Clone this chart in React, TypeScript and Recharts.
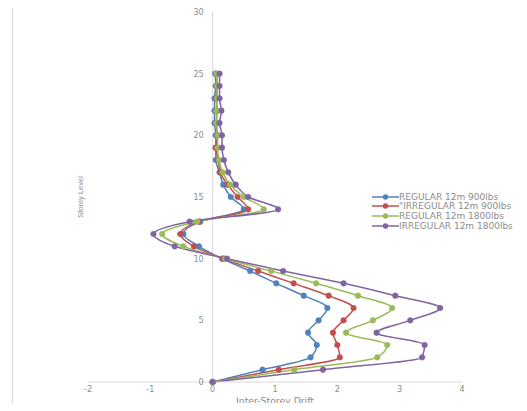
import React from 'react';
import {
  LineChart,
  Line,
  XAxis,
  YAxis,
  ReferenceLine,
  ReferenceDot,
} from 'recharts';

const levels = [0, 1, 2, 3, 4, 5, 6, 7, 8, 9, 10, 11, 12, 13, 14, 15, 16, 17, 18, 19, 20, 21, 22, 23, 24, 25];

const regular900 = [0, 0.8, 1.57, 1.67, 1.53, 1.7, 1.84, 1.46, 1.02, 0.6, 0.15, -0.22, -0.47, -0.2, 0.5, 0.29, 0.17, 0.11, 0.05, 0.05, 0.05, 0.03, 0.03, 0.03, 0.05, 0.04];
const irregular900 = [0, 1.06, 2.04, 2.0, 1.93, 2.1, 2.26, 1.86, 1.3, 0.73, 0.17, -0.3, -0.52, -0.22, 0.57, 0.4, 0.24, 0.12, 0.09, 0.05, 0.08, 0.06, 0.07, 0.06, 0.07, 0.06];
const regular1800 = [0, 1.31, 2.64, 2.8, 2.14, 2.57, 2.88, 2.33, 1.66, 0.94, 0.2, -0.47, -0.81, -0.25, 0.82, 0.5, 0.28, 0.16, 0.1, 0.08, 0.08, 0.06, 0.06, 0.07, 0.07, 0.06];
const irregular1800 = [0, 1.77, 3.36, 3.4, 2.63, 3.17, 3.65, 2.93, 2.1, 1.13, 0.23, -0.61, -0.95, -0.37, 1.05, 0.57, 0.37, 0.25, 0.18, 0.15, 0.15, 0.11, 0.14, 0.11, 0.11, 0.11];

const xTicks = [-2, -1, 0, 1, 2, 3, 4];
const yTicks = [0, 5, 10, 15, 20, 25, 30];

const series = [
  { key: 'r900', name: 'REGULAR 12m 900lbs', color: '#4F81BD' },
  { key: 'i900', name: '"IRREGULAR 12m 900lbs', color: '#C0504D' },
  { key: 'r1800', name: 'REGULAR 12m 1800lbs', color: '#9BBB59' },
  { key: 'i1800', name: 'IRREGULAR 12m 1800lbs', color: '#8064A2' },
];

const data = levels.map((level, i) => ({
  level,
  r900: regular900[i],
  i900: irregular900[i],
  r1800: regular1800[i],
  i1800: irregular1800[i],
}));

const textColor = '#8c8c8c';
const axisColor = '#d9d9d9';
const font = '"DejaVu Sans", sans-serif';

// legend drawn beside the chart, Excel-style (line + marker)
const LegendBox = () => (
  <div
    style={{
      position: 'absolute',
      left: 372,
      top: 192,
      width: 150,
      fontFamily: font,
      fontSize: 9,
      color: textColor,
    }}
  >
    {series.map((s) => (
      <div key={s.key} style={{ display: 'flex', alignItems: 'center', height: 9.6, whiteSpace: 'nowrap' }}>
        <svg width={27} height={8} style={{ flex: 'none' }}>
          <line x1={0} y1={4} x2={27} y2={4} stroke={s.color} strokeWidth={1.5} />
          <circle cx={13.5} cy={4} r={2.7} fill={s.color} />
        </svg>
        <span>{s.name}</span>
      </div>
    ))}
  </div>
);

export default function App() {
  return (
    <div style={{ position: 'relative', width: 527, height: 411, margin: -8, overflow: 'hidden', background: '#fff' }}>
      <div
        style={{
          position: 'absolute',
          left: 12,
          top: 6,
          width: 514,
          height: 420,
          borderTop: `1px solid ${axisColor}`,
          borderLeft: `1px solid ${axisColor}`,
        }}
      />
      <div style={{ position: 'absolute', left: 0, top: 0 }}>
        <LineChart
          width={527}
          height={411}
          data={data}
          layout="vertical"
          margin={{ top: 12, right: 65, bottom: 4, left: 72 }}
        >
          <XAxis
            type="number"
            dataKey="r900"
            domain={[-2, 4]}
            ticks={xTicks}
            allowDataOverflow
            height={25}
            stroke={axisColor}
            tickLine={false}
            tickSize={0}
            tickMargin={4}
            tick={{ fill: textColor, fontSize: 8, fontFamily: font }}
            label={{
              value: 'Inter-Storey Drift',
              position: 'insideBottom',
              offset: 3,
              fill: textColor,
              fontSize: 9.3,
              fontFamily: font,
            }}
          />
          <YAxis
            type="number"
            dataKey="level"
            domain={[0, 30]}
            ticks={yTicks}
            reversed
            width={16}
            axisLine={false}
            tickLine={false}
            tick={false}
            label={{
              value: 'Storey Level',
              angle: -90,
              position: 'center',
              fill: textColor,
              fontSize: 7.5,
              fontFamily: '"Liberation Sans Narrow", "Liberation Sans", sans-serif',
            }}
          />
          <ReferenceLine x={0} stroke={axisColor} strokeWidth={1} />
          {yTicks.map((t) => (
            <ReferenceDot
              key={t}
              x={0}
              y={t}
              r={0}
              fill="none"
              stroke="none"
              label={{
                value: t,
                position: 'left',
                offset: 9,
                fill: textColor,
                fontSize: 8,
                fontFamily: font,
              }}
            />
          ))}
          {series.map((s) => (
            <Line
              key={s.key}
              type="monotone"
              dataKey={s.key}
              name={s.name}
              stroke={s.color}
              strokeWidth={1.5}
              dot={{ r: 2.8, fill: s.color, stroke: s.color, strokeWidth: 0.5 }}
              activeDot={false}
              isAnimationActive={false}
            />
          ))}
        </LineChart>
      </div>
      <LegendBox />
    </div>
  );
}
